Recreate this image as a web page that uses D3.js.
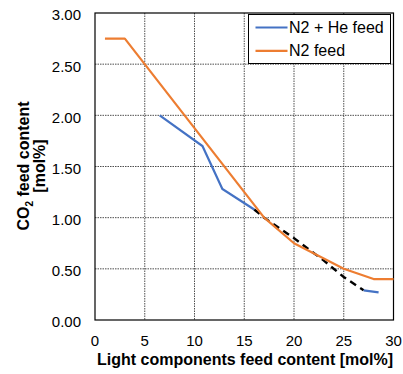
<!DOCTYPE html>
<html>
<head>
<meta charset="utf-8">
<script src="https://cdn.jsdelivr.net/npm/d3@7"></script>
<style>
  body { margin: 0; background: #fff; }
  svg { display: block; font-family: "Liberation Sans", Arial, sans-serif; }
</style>
</head>
<body>
<svg id="chart" width="403" height="374"></svg>
<script>
const xTicks = [0, 5, 10, 15, 20, 25, 30];
const yTicks = [0, 0.5, 1, 1.5, 2, 2.5, 3];

// N2 feed (orange)
const n2X = [1, 3, 17, 20, 25, 28, 30];
const n2Y = [2.75, 2.75, 1.0, 0.75, 0.5, 0.4, 0.4];

// N2 + He feed (blue), split in two solid parts
const heHeadX = [6.5, 10.8, 12.8, 16];
const heHeadY = [2.0, 1.7, 1.28, 1.08];
const heTailX = [27, 28.5];
const heTailY = [0.29, 0.27];

// black dashed part between them
const dashX = [16, 17, 20, 23, 25, 27];
const dashY = [1.08, 1.0, 0.8, 0.58, 0.42, 0.29];

const BLUE = "#4472C4";
const ORANGE = "#ED7D31";

const margin = { top: 13, left: 95 };
const pw = 298.5, ph = 307;

const svg = d3.select("#chart");
const g = svg.append("g").attr("transform", `translate(${margin.left},${margin.top})`);

const x = d3.scaleLinear().domain([0, 30]).range([0, pw]);
const y = d3.scaleLinear().domain([0, 3]).range([ph, 0]);

const zip = (xs, ys) => xs.map((v, i) => [v, ys[i]]);

// grid
g.append("g").selectAll("line")
  .data(xTicks.slice(1, -1))
  .join("line")
  .attr("x1", d => x(d)).attr("x2", d => x(d))
  .attr("y1", 0).attr("y2", ph)
  .attr("stroke", "#222").attr("stroke-width", 0.8)
  .attr("stroke-dasharray", "1.5,1");

g.append("g").selectAll("line")
  .data(yTicks.slice(1, -1))
  .join("line")
  .attr("y1", d => y(d)).attr("y2", d => y(d))
  .attr("x1", 0).attr("x2", pw)
  .attr("stroke", "#222").attr("stroke-width", 0.8)
  .attr("stroke-dasharray", "1.5,1");

// frame
g.append("rect")
  .attr("width", pw).attr("height", ph)
  .attr("fill", "none").attr("stroke", "#000").attr("stroke-width", 1.2);

// tick labels
g.append("g").selectAll("text")
  .data(yTicks)
  .join("text")
  .attr("x", -14).attr("y", d => y(d) + 7.4)
  .attr("text-anchor", "end")
  .attr("font-size", 15)
  .text(d => d3.format(".2f")(d));

g.append("g").selectAll("text")
  .data(xTicks)
  .join("text")
  .attr("x", d => x(d)).attr("y", ph + 25.7)
  .attr("text-anchor", "middle")
  .attr("font-size", 15)
  .text(d => d);

const line = d3.line().x(d => x(d[0])).y(d => y(d[1]));

g.append("path")
  .datum(zip(dashX, dashY))
  .attr("d", line)
  .attr("fill", "none").attr("stroke", "#000").attr("stroke-width", 2.4)
  .attr("stroke-dasharray", "7,5");

[zip(heHeadX, heHeadY), zip(heTailX, heTailY)].forEach(pts => {
  g.append("path")
    .datum(pts)
    .attr("d", line)
    .attr("fill", "none").attr("stroke", BLUE).attr("stroke-width", 2.2);
});

g.append("path")
  .datum(zip(n2X, n2Y))
  .attr("d", line)
  .attr("fill", "none").attr("stroke", ORANGE).attr("stroke-width", 2.2)
  .attr("stroke-linejoin", "round");

// legend
const leg = svg.append("g").attr("transform", "translate(248.5,14.5)");
leg.append("rect")
  .attr("width", 142).attr("height", 49)
  .attr("fill", "#fff").attr("stroke", "#000").attr("stroke-width", 1);
const legItems = [["N2 + He feed", BLUE], ["N2 feed", ORANGE]];
legItems.forEach(([name, col], i) => {
  const ly = 13 + i * 23.4;
  leg.append("line")
    .attr("x1", 7).attr("x2", 39).attr("y1", ly).attr("y2", ly)
    .attr("stroke", col).attr("stroke-width", 2.2);
  leg.append("text")
    .attr("x", 40.5).attr("y", ly + 5.2)
    .attr("font-size", 16)
    .text(name);
});

// axis titles
svg.append("text")
  .attr("x", 245).attr("y", 365)
  .attr("text-anchor", "middle")
  .attr("font-size", 16).attr("font-weight", "bold")
  .text("Light components feed content [mol%]");

const yt = svg.append("text")
  .attr("transform", "translate(28.5,166) rotate(-90)")
  .attr("text-anchor", "middle")
  .attr("font-size", 16).attr("font-weight", "bold");
yt.append("tspan").attr("x", 0).attr("dy", 0).text("CO");
yt.append("tspan").attr("dy", 4).attr("font-size", 10).text("2");
yt.append("tspan").attr("dy", -4).text(" feed content");
yt.append("tspan").attr("x", 0).attr("dy", 16.5).text("[mol%]");
</script>
</body>
</html>
